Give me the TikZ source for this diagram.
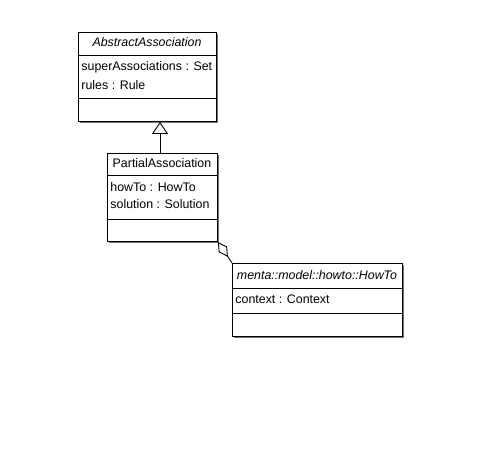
\documentclass[tikz,border=0pt]{standalone}
\usepackage{fontspec}
\setmainfont{Liberation Sans}
\usetikzlibrary{arrows.meta}
\begin{document}
\begin{tikzpicture}[x=1pt,y=-1pt,line width=0.9pt,
  box/.style={draw,fill=white,inner sep=0pt,anchor=north west},
  shadow/.style={fill=black!55,draw=none,inner sep=0pt,anchor=north west},
  title/.style={font=\fontsize{12.4}{14}\selectfont\itshape,inner sep=0pt},
  ntitle/.style={font=\fontsize{12.4}{14}\selectfont,inner sep=0pt},
  attr/.style={font=\fontsize{12.4}{14}\selectfont,inner sep=0pt,anchor=west}]
\useasboundingbox (0,0) rectangle (479,460);
\fill[white] (0,0) rectangle (479,460);
% AbstractAssociation
\node[shadow,minimum width=138pt,minimum height=89pt] (s1) at (80,34) {};
\node[box,minimum width=138pt,minimum height=89pt] (b1) at (78,32) {};
\draw (78,55) -- (216,55);
\draw (78,98) -- (216,98);
\node[title] (t1) at (147,42.5) {AbstractAssociation};
\node[attr] (a11) at (81,67) {superAssociations : Set};
\node[attr] (a12) at (81,85) {rules : Rule};
% PartialAssociation
\node[shadow,minimum width=110pt,minimum height=88pt] (s2) at (109,155) {};
\node[box,minimum width=110pt,minimum height=88pt] (b2) at (107,153) {};
\draw (107,175) -- (217,175);
\draw (107,219) -- (217,219);
\node[ntitle] (t2) at (162,163) {PartialAssociation};
\node[attr] (a21) at (110,187) {howTo : HowTo};
\node[attr] (a22) at (110,204) {solution : Solution};
% HowTo
\node[shadow,minimum width=170pt,minimum height=73pt] (s3) at (234,265) {};
\node[box,minimum width=170pt,minimum height=73pt] (b3) at (232,263) {};
\draw (232,288) -- (402,288);
\draw (232,313) -- (402,313);
\node[title] (t3) at (317,275) {menta::model::howto::HowTo};
\node[attr] (a31) at (235,299) {context : Context};
% generalization
\coordinate (g) at (160,0);
\draw[-{Triangle[open,length=12pt,width=16pt,line width=0.9pt]}] (g |- b2.north) -- (g |- b1.south);
% aggregation
\draw[{Diamond[open,length=18pt,width=10pt,line width=0.9pt]}-] (b2.south east) -- (b3.north west);
\end{tikzpicture}
\end{document}
